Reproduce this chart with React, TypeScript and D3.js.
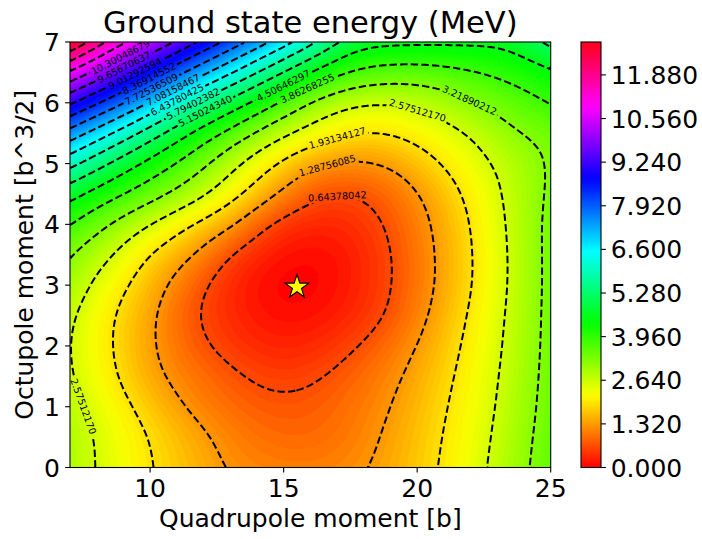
import React, { useMemo } from 'react';
import * as d3 from 'd3';

// Quadrupole moment grid (b) and octupole moment grid (b^3/2)
const quadrupole = [7, 8.5, 10, 11.5, 13, 14.5, 16, 17.5, 19, 20.5, 22, 23.5, 25];
const octupole = [0, 0.5, 1, 1.5, 2, 2.5, 3, 3.5, 4, 4.5, 5, 5.5, 6, 6.5, 7];

// Ground-state energy (MeV), one row per octupole value
const energyO00 = [2.86, 2.41, 1.95, 1.59, 1.22, 1.09, 1.06, 1.16, 1.44, 1.83, 2.33, 2.92, 3.55];
const energyO05 = [2.88, 2.38, 1.92, 1.5, 1.11, 0.89, 0.86, 1.02, 1.38, 1.79, 2.27, 2.87, 3.5];
const energyO10 = [2.75, 2.24, 1.7, 1.2, 0.89, 0.73, 0.75, 0.95, 1.27, 1.72, 2.21, 2.8, 3.45];
const energyO15 = [2.62, 2.04, 1.42, 1.02, 0.73, 0.51, 0.56, 0.82, 1.15, 1.62, 2.15, 2.75, 3.42];
const energyO20 = [2.57, 1.96, 1.35, 0.8, 0.46, 0.27, 0.3, 0.56, 0.95, 1.48, 2.08, 2.7, 3.4];
const energyO25 = [2.65, 1.98, 1.39, 0.68, 0.33, 0.11, 0.1, 0.28, 0.66, 1.32, 2.0, 2.67, 3.39];
const energyO30 = [2.93, 2.2, 1.58, 0.84, 0.3, 0.03, 0.0, 0.2, 0.58, 1.2, 1.89, 2.63, 3.38];
const energyO35 = [3.22, 2.61, 1.87, 1.35, 0.55, 0.17, 0.05, 0.19, 0.59, 1.2, 1.88, 2.63, 3.38];
const energyO40 = [3.85, 3.17, 2.54, 1.93, 1.4, 0.5, 0.27, 0.33, 0.68, 1.26, 1.93, 2.67, 3.38];
const energyO45 = [4.68, 4.04, 3.5, 2.91, 2.21, 1.42, 0.68, 0.56, 0.86, 1.42, 2.07, 2.72, 3.31];
const energyO50 = [5.97, 5.06, 4.25, 3.58, 2.74, 1.99, 1.38, 1.15, 1.32, 1.8, 2.31, 2.79, 3.27];
const energyO55 = [7.45, 6.45, 5.43, 4.41, 3.63, 2.85, 2.32, 1.93, 1.92, 2.23, 2.58, 3.15, 3.38];
const energyO60 = [9.1, 8.12, 7.04, 5.85, 4.88, 3.99, 3.09, 2.58, 2.53, 2.75, 3.18, 3.52, 3.9];
const energyO65 = [10.8, 9.75, 8.67, 7.59, 6.51, 5.43, 4.45, 3.8, 3.56, 3.59, 3.79, 4.04, 4.35];
const energyO70 = [12.88, 11.37, 10.29, 9.21, 8.13, 7.05, 5.97, 4.75, 4.62, 4.6, 4.6, 4.62, 5.3];

const energyRows = [
  energyO00, energyO05, energyO10, energyO15, energyO20, energyO25, energyO30, energyO35,
  energyO40, energyO45, energyO50, energyO55, energyO60, energyO65, energyO70,
];

const minimumPoint = [15.5, 2.97];
const energyMax = 12.8756084908;
const levelCount = 20;
const colorbarTicks = [0, 1.32, 2.64, 3.96, 5.28, 6.6, 7.92, 9.24, 10.56, 11.88];
const xTicks = [10, 15, 20, 25];
const yTicks = [0, 1, 2, 3, 4, 5, 6, 7];

// label anchors: [level index, quadrupole, octupole] (snapped to the line)
const labelSpots = [
  [1, 17.0, 4.47], [2, 16.6, 5.01], [3, 16.96, 5.44], [4, 20.03, 5.93], [4, 7.45, 1.0],
  [5, 21.98, 6.03], [6, 15.91, 6.24], [7, 14.94, 6.31], [8, 12.06, 5.88], [9, 11.57, 5.99],
  [10, 10.97, 6.06], [11, 10.82, 6.26], [12, 10.0, 6.26], [13, 9.92, 6.44], [14, 9.36, 6.54],
  [15, 8.95, 6.65], [16, 8.87, 6.75],
];

// matplotlib "hsv" colormap segment data
const HSV_R = [[0, 1], [0.15873, 1], [0.174603, 0.96875], [0.333333, 0.03125], [0.349206, 0], [0.666667, 0], [0.68254, 0.03125], [0.84127, 0.96875], [0.857143, 1], [1, 1]];
const HSV_G = [[0, 0], [0.15873, 0.9375], [0.174603, 1], [0.507937, 1], [0.666667, 0.0625], [0.68254, 0], [1, 0]];
const HSV_B = [[0, 0], [0.333333, 0], [0.349206, 0.0625], [0.507937, 1], [0.84127, 1], [0.857143, 0.9375], [1, 0.09375]];

function segInterp(seg: number[][], t: number) {
  for (let i = 1; i < seg.length; i++) {
    if (t <= seg[i][0]) {
      const [x0, y0] = seg[i - 1];
      const [x1, y1] = seg[i];
      return y0 + ((y1 - y0) * (t - x0)) / (x1 - x0);
    }
  }
  return seg[seg.length - 1][1];
}
function hsvColor(v: number) {
  const t = Math.max(0, Math.min(1, v / energyMax));
  const r = Math.round(segInterp(HSV_R, t) * 255);
  const g = Math.round(segInterp(HSV_G, t) * 255);
  const b = Math.round(segInterp(HSV_B, t) * 255);
  return `rgb(${r},${g},${b})`;
}

const NQ = quadrupole.length;
const NO = octupole.length;
function gridAt(i: number, j: number): number {
  if (i < 0) return 2 * gridAt(0, j) - gridAt(1, j);
  if (i > NQ - 1) return 2 * gridAt(NQ - 1, j) - gridAt(NQ - 2, j);
  if (j < 0) return 2 * gridAt(i, 0) - gridAt(i, 1);
  if (j > NO - 1) return 2 * gridAt(i, NO - 1) - gridAt(i, NO - 2);
  return energyRows[j][i];
}
// uniform cubic B-spline blend
function bs(p0: number, p1: number, p2: number, p3: number, t: number) {
  const t2 = t * t;
  const t3 = t2 * t;
  const b0 = ((1 - t) * (1 - t) * (1 - t)) / 6;
  const b1 = (3 * t3 - 6 * t2 + 4) / 6;
  const b2 = (-3 * t3 + 3 * t2 + 3 * t + 1) / 6;
  const b3 = t3 / 6;
  return b0 * p0 + b1 * p1 + b2 * p2 + b3 * p3;
}
const qIndex = d3.scaleLinear().domain(quadrupole).range(quadrupole.map((_, i) => i));
const oIndex = d3.scaleLinear().domain(octupole).range(octupole.map((_, i) => i));
function energyAt(q: number, o: number) {
  const gx = qIndex(q);
  const gy = oIndex(o);
  const i = Math.max(0, Math.min(Math.floor(gx), NQ - 2));
  const j = Math.max(0, Math.min(Math.floor(gy), NO - 2));
  const tx = gx - i;
  const ty = gy - j;
  const rows = [-1, 0, 1, 2].map((dj) =>
    bs(gridAt(i - 1, j + dj), gridAt(i, j + dj), gridAt(i + 1, j + dj), gridAt(i + 2, j + dj), tx)
  );
  return bs(rows[0], rows[1], rows[2], rows[3], ty);
}

const W = 702;
const H = 539;
const left = 70;
const right = 550.7;
const top = 42;
const bottom = 467.5;
const cbLeft = 581;
const cbWidth = 20;
const FONT = 'DejaVu Sans';

export default function App() {
  const x = d3.scaleLinear().domain([7, 25]).range([left, right]);
  const y = d3.scaleLinear().domain([0, 7]).range([bottom, top]);
  const cbScale = d3.scaleLinear().domain([0, energyMax]).range([bottom, top]);

  const computed = useMemo(() => {
    const NX = 240;
    const NY = 212;
    const values = new Array(NX * NY);
    for (let j = 0; j < NY; j++) {
      const o = 7 - ((j + 0.5) * 7) / NY;
      for (let i = 0; i < NX; i++) {
        const q = 7 + ((i + 0.5) * 18) / NX;
        values[j * NX + i] = energyAt(q, o);
      }
    }
    const cw = (right - left) / NX;
    const ch = (bottom - top) / NY;
    const transform = d3.geoTransform({
      point(px: number, py: number) {
        (this as any).stream.point(left + px * cw, top + py * ch);
      },
    });
    const geo = d3.geoPath(transform);
    const gen = d3.contours().size([NX, NY]);
    const fillStep = 0.08;
    const fills: { d: string; color: string }[] = [];
    for (let t = fillStep; t < energyMax + 0.2; t += fillStep) {
      const c = gen.contour(values, t);
      const d = geo(c as any);
      if (d) fills.push({ d, color: hsvColor(t + fillStep / 2) });
    }

    const step = energyMax / levelCount;
    const onFrame = (p: number[]) =>
      p[0] <= 1e-9 || p[0] >= NX - 1e-9 || p[1] <= 1e-9 || p[1] >= NY - 1e-9;
    const levelLines: { k: number; lines: [number, number][][] }[] = [];
    for (let k = 1; k < levelCount; k++) {
      const c = gen.contour(values, k * step);
      const lines: [number, number][][] = [];
      for (const poly of c.coordinates) {
        for (const ringRaw of poly) {
          let ring = ringRaw.slice(0, ringRaw.length - 1);
          const fi = ring.findIndex((p) => onFrame(p));
          if (fi > 0) ring = ring.slice(fi).concat(ring.slice(0, fi));
          ring = ring.concat([ring[0]]);
          let cur: [number, number][] = [];
          for (let idx = 0; idx < ring.length; idx++) {
            const p = ring[idx];
            const prev = idx > 0 ? ring[idx - 1] : null;
            if (prev && onFrame(p) && onFrame(prev)) {
              if (cur.length > 1) lines.push(cur);
              cur = [];
            }
            cur.push([left + p[0] * cw, top + p[1] * ch]);
          }
          if (cur.length > 1) lines.push(cur);
        }
      }
      levelLines.push({ k, lines });
    }

    const fs = 9.7;
    const labels = labelSpots.map(([k, q, o]) => {
      const tx = x(q);
      const ty = y(o);
      const entry = levelLines.find((l) => l.k === k)!;
      let best = { d: Infinity, li: 0, pi: 0 };
      entry.lines.forEach((ln, li) =>
        ln.forEach((p, pi) => {
          const dd = (p[0] - tx) ** 2 + (p[1] - ty) ** 2;
          if (dd < best.d) best = { d: dd, li, pi };
        })
      );
      const ln = entry.lines[best.li];
      const a = ln[Math.max(0, best.pi - 4)];
      const b = ln[Math.min(ln.length - 1, best.pi + 4)];
      let ang = (Math.atan2(b[1] - a[1], b[0] - a[0]) * 180) / Math.PI;
      if (ang > 90) ang -= 180;
      if (ang < -90) ang += 180;
      const text = (k * step).toFixed(8);
      const digits = text.replace('.', '').length;
      const w = fs * (0.636 * digits + 0.318) + 4;
      return { k, px: ln[best.pi][0], py: ln[best.pi][1], ang, text, w, fs };
    });

    const lineGen = d3.line();
    const linePaths = levelLines.map((l) => ({
      k: l.k,
      d: l.lines.map((ln) => lineGen(ln)).join(''),
    }));
    return { fills, linePaths, labels };
  }, []);

  const gradStops = d3.range(0, 101).map((i) => ({
    off: i / 100,
    color: hsvColor((i / 100) * energyMax),
  }));

  const star = d3.symbol(d3.symbolStar, 175)();

  return (
    <svg
      width={W}
      height={H}
      viewBox={`0 0 ${W} ${H}`}
      style={{ position: 'absolute', left: 0, top: 0, background: '#fff' }}
      fontFamily={FONT}
    >
      <defs>
        <clipPath id="plotClip">
          <rect x={left} y={top} width={right - left} height={bottom - top} />
        </clipPath>
        <mask id="labelGaps" maskUnits="userSpaceOnUse" x={0} y={0} width={W} height={H}>
          <rect x={0} y={0} width={W} height={H} fill="white" />
          {computed.labels.map((l, i) => (
            <rect
              key={i}
              x={-l.w / 2}
              y={-5.5}
              width={l.w}
              height={11}
              fill="black"
              transform={`translate(${l.px},${l.py}) rotate(${l.ang})`}
            />
          ))}
        </mask>
        <linearGradient id="cbGrad" x1="0" y1="1" x2="0" y2="0">
          {gradStops.map((s, i) => (
            <stop key={i} offset={s.off} stopColor={s.color} />
          ))}
        </linearGradient>
      </defs>

      <rect x={0} y={0} width={W} height={H} fill="#fff" />

      <g clipPath="url(#plotClip)">
        <rect x={left} y={top} width={right - left} height={bottom - top} fill={hsvColor(0.02)} />
        {computed.fills.map((f, i) => (
          <path key={i} d={f.d} fill={f.color} stroke="none" />
        ))}
        <g mask="url(#labelGaps)">
          {computed.linePaths.map((l) => (
            <path
              key={l.k}
              d={l.d}
              fill="none"
              stroke="#000"
              strokeWidth={2}
              strokeDasharray="7.4 3.2"
            />
          ))}
        </g>
        {computed.labels.map((l, i) => (
          <text
            key={i}
            transform={`translate(${l.px},${l.py}) rotate(${l.ang})`}
            textAnchor="middle"
            dy="0.35em"
            fontSize={l.fs}
            fill="#000"
          >
            {l.text}
          </text>
        ))}
        <path
          d={star || ''}
          transform={`translate(${x(minimumPoint[0])},${y(minimumPoint[1])})`}
          fill="#ffff00"
          stroke="#000"
          strokeWidth={1.1}
        />
      </g>

      {/* axes frame */}
      <rect x={left} y={top} width={right - left} height={bottom - top} fill="none" stroke="#000" strokeWidth={1.1} />

      {/* x ticks */}
      {xTicks.map((t) => (
        <g key={t}>
          <line x1={x(t)} x2={x(t)} y1={bottom} y2={bottom + 4.9} stroke="#000" strokeWidth={1.1} />
          <text x={x(t)} y={bottom + 29} textAnchor="middle" fontSize={25} fill="#000">
            {t}
          </text>
        </g>
      ))}
      {/* y ticks */}
      {yTicks.map((t) => (
        <g key={t}>
          <line x1={left - 4.9} x2={left} y1={y(t)} y2={y(t)} stroke="#000" strokeWidth={1.1} />
          <text x={left - 10} y={y(t) + 9} textAnchor="end" fontSize={25} fill="#000">
            {t}
          </text>
        </g>
      ))}

      <text x={(left + right) / 2} y={33} textAnchor="middle" fontSize={30.5} fill="#000">
        Ground state energy (MeV)
      </text>
      <text x={(left + right) / 2} y={527} textAnchor="middle" fontSize={25} fill="#000">
        Quadrupole moment [b]
      </text>
      <text
        transform={`translate(33,${(top + bottom) / 2}) rotate(-90)`}
        textAnchor="middle"
        fontSize={25}
        fill="#000"
      >
        Octupole moment [b^3/2]
      </text>

      {/* colorbar */}
      <rect x={cbLeft} y={top} width={cbWidth} height={bottom - top} fill="url(#cbGrad)" />
      <rect x={cbLeft} y={top} width={cbWidth} height={bottom - top} fill="none" stroke="#000" strokeWidth={1.1} />
      {colorbarTicks.map((t) => (
        <g key={t}>
          <line x1={cbLeft + cbWidth} x2={cbLeft + cbWidth + 4.9} y1={cbScale(t)} y2={cbScale(t)} stroke="#000" strokeWidth={1.1} />
          <text x={cbLeft + cbWidth + 9.7} y={cbScale(t) + 9} fontSize={25} fill="#000">
            {d3.format('.3f')(t)}
          </text>
        </g>
      ))}
    </svg>
  );
}
